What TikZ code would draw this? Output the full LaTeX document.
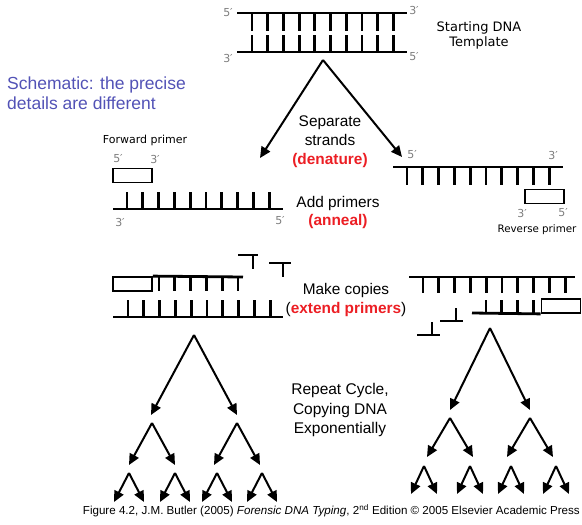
\documentclass[tikz,border=0pt]{standalone}
\usepackage{fontspec}
\setmainfont{Liberation Sans}
\newfontfamily\handfont{DejaVu Sans}
\usetikzlibrary{arrows.meta}
\definecolor{noteblue}{RGB}{82,82,182}
\definecolor{stepred}{RGB}{236,30,36}
\definecolor{endgray}{RGB}{125,125,125}
\tikzset{>={Triangle[length=11pt,width=10pt]}}
\tikzset{
  strand/.style={line width=2.8pt},
  rung/.style={line width=2.8pt},
  primer box/.style={draw,line width=1.8pt,minimum width=39pt,minimum height=14pt,inner sep=0pt},
  end label/.style={text=endgray,font=\handfont\fontsize{11}{11}\selectfont,inner sep=0pt},
  hand text/.style={align=center,font=\handfont\fontsize{#1}{#1}\selectfont,inner sep=0pt},
  step text/.style={align=center,font=\fontsize{15.4}{18.8}\selectfont,inner sep=0pt},
  copy arrow/.style={->,line width=2pt},
}
% one split of the copy tree: name, x, y, dx, dy
\newcommand{\fork}[5]{%
  \coordinate (#1) at (#2,#3);
  \coordinate (#1-l) at ({#2-#4},{#3+#5});
  \coordinate (#1-r) at ({#2+#4},{#3+#5});
  \draw[copy arrow] (#1) -- (#1-l);
  \draw[copy arrow] (#1) -- (#1-r);
}
\newcommand{\stepred}[1]{\textcolor{stepred}{\textbf{#1}}}

\begin{document}
\begin{tikzpicture}[x=1pt,y=-1pt]
    \useasboundingbox (0,0) rectangle (582,525);

    % starting template
    \draw[strand] (237,13) -- (407,13);
    \draw[strand] (237,52) -- (407,52);
    \foreach \x in {0,...,9} {
        \draw[rung] ({252+15.7*\x},13) -- ++(0,18);
        \draw[rung] ({252+15.7*\x},52) -- ++(0,-17);
    }
    \node[end label] (tpl-5a) at (228,13) {5′};
    \node[end label] (tpl-3a) at (228,58) {3′};
    \node[end label] (tpl-3b) at (414,10) {3′};
    \node[end label] (tpl-5b) at (414,57) {5′};
    \node[hand text=13] (start) at (479,35) {Starting DNA\\[2pt]Template};

    \node[anchor=west,align=left,text=noteblue,font=\fontsize{17.5}{20.5}\selectfont,inner sep=0pt]
        (note) at (7,93) {Schematic: the precise\\details are different};

    % denature
    \coordinate (split) at (323,60);
    \coordinate (left-in) at (260,158);
    \coordinate (right-in) at (402,157);
    \draw[copy arrow] (split) -- (left-in);
    \draw[copy arrow] (split) -- (right-in);
    \node[step text] (denature) at (330,142) {Separate\\strands\\\stepred{(denature)}};

    % anneal, left strand
    \draw[strand] (113,209) -- (283,209);
    \foreach \x in {0,...,9}
        \draw[rung] ({127+15.8*\x},209) -- ++(0,-17);
    \node[end label] (left-3) at (120,222) {3′};
    \node[end label] (left-5) at (280,221) {5′};
    \node[primer box] (fwd) at (132.5,175.5) {};
    \node[end label] (fwd-5) at (118,159) {5′};
    \node[end label] (fwd-3) at (155,159) {3′};
    \node[hand text=11] (fwd-name) at (145,140) {Forward primer};

    % anneal, right strand
    \draw[strand] (393,167) -- (563,167);
    \foreach \x in {0,...,9}
        \draw[rung] ({407+15.8*\x},167) -- ++(0,18);
    \node[end label] (right-5) at (412,155) {5′};
    \node[end label] (right-3) at (553,155) {3′};
    \node[primer box] (rev) at (544.5,196.5) {};
    \node[end label] (rev-3) at (522,213) {3′};
    \node[end label] (rev-5) at (563,213) {5′};
    \node[hand text=10.3] (rev-name) at (537,230) {Reverse primer};

    \node[step text] (anneal) at (338,212.5) {Add primers\\\stepred{(anneal)}};

    % extend, left
    \draw[strand] (113,317) -- (283,317);
    \foreach \x in {0,...,9}
        \draw[rung] ({128+15.8*\x},317) -- ++(0,-17);
    \node[primer box] (fwd-copy) at (132.5,284) {};
    \draw[strand] (fwd-copy.north east) -- (243,277);
    \foreach \x in {0,...,5}
        \draw[rung] ({159+15.8*\x},277) -- ++(0,14);
    \draw[strand] (238,255) -- (258,255) (253,255) -- (253,269);
    \draw[strand] (269,263) -- (291,263) (283,263) -- (283,277);

    % extend, right
    \draw[strand] (409,277) -- (575,277);
    \foreach \x in {0,...,9}
        \draw[rung] ({423+15.8*\x},277) -- ++(0,16);
    \node[primer box] (rev-copy) at (561,306) {};
    \draw[strand] (rev-copy.south west) -- (472,313);
    \foreach \x in {0,...,3}
        \draw[rung] ({486+15.8*\x},313) -- ++(0,-13);
    \draw[strand] (440,321) -- (463,321) (456,321) -- (456,308);
    \draw[strand] (417,335) -- (440,335) (432,335) -- (432,322);

    \node[step text] (extend) at (346,300) {Make copies\\(\stepred{extend primers})};

    % repeat, left tree
    \fork{lt}{194}{335}{43}{80}
    \fork{lt-a}{152}{423}{23}{42}
    \fork{lt-b}{237}{423}{23}{42}
    \fork{lt-aa}{129}{473}{15}{29}
    \fork{lt-ab}{175}{473}{15}{29}
    \fork{lt-ba}{217}{473}{15}{29}
    \fork{lt-bb}{262}{473}{15}{29}

    % repeat, right tree
    \fork{rt}{490}{328}{40}{82}
    \fork{rt-a}{450}{418}{23}{39}
    \fork{rt-b}{530}{418}{23}{39}
    \fork{rt-aa}{424}{466}{13}{28}
    \fork{rt-ab}{470}{466}{13}{28}
    \fork{rt-ba}{511}{466}{13}{28}
    \fork{rt-bb}{556}{466}{13}{28}

    \node[align=center,font=\fontsize{15.5}{19.5}\selectfont,inner sep=0pt] (repeat) at (340,410)
        {Repeat Cycle,\\Copying DNA\\Exponentially};

    \node[anchor=east,inner sep=0pt,font=\fontsize{11.6}{13}\selectfont] (credit) at (580,511)
        {Figure 4.2, J.M. Butler (2005) \textit{Forensic DNA Typing}, 2\textsuperscript{nd} Edition \textcopyright{} 2005 Elsevier Academic Press};
\end{tikzpicture}
\end{document}
